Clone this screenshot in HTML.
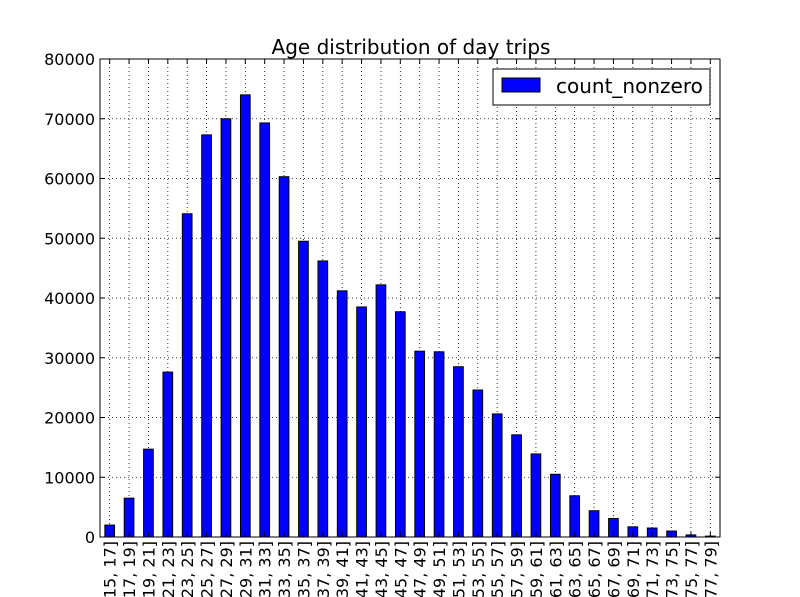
<!DOCTYPE html>
<html><head><meta charset="utf-8"><style>
body{margin:0;background:#fff;}
svg{display:block;font-family:"DejaVu Sans","Liberation Sans",sans-serif;}
</style></head><body>
<svg id="chart" width="800" height="597">
<rect width="800" height="597" fill="#fff"/>
<text x="411" y="54" text-anchor="middle" font-size="20">Age distribution of day trips</text>
<g id="grid"></g><g id="bars"></g><g id="yticks"></g><g id="xticks"></g>
<rect x="100" y="59" width="620" height="478" fill="none" stroke="#000" stroke-width="1"/>
<g>
<rect x="493" y="69" width="217" height="36" fill="#fff" stroke="#000"/>
<rect x="502" y="78" width="38" height="14" fill="#0000ff" stroke="#000"/>
<text x="556" y="93" font-size="20">count_nonzero</text>
</g>
</svg>
<script>
const categories=["[15, 17]","[17, 19]","[19, 21]","[21, 23]","[23, 25]","[25, 27]","[27, 29]","[29, 31]","[31, 33]","[33, 35]","[35, 37]","[37, 39]","[39, 41]","[41, 43]","[43, 45]","[45, 47]","[47, 49]","[49, 51]","[51, 53]","[53, 55]","[55, 57]","[57, 59]","[59, 61]","[61, 63]","[63, 65]","[65, 67]","[67, 69]","[69, 71]","[71, 73]","[73, 75]","[75, 77]","[77, 79]"];
const values=[2000,6500,14700,27600,54100,67300,70000,74000,69300,60300,49500,46200,41200,38500,42200,37700,31100,31000,28500,24600,20600,17100,13900,10500,6900,4400,3100,1700,1500,1000,350,150];
const yTicks=[0,10000,20000,30000,40000,50000,60000,70000,80000];
const NS="http://www.w3.org/2000/svg";
const X0=100,X1=720,Y0=537,Y1=59,YMAX=80000;
const step=(X1-X0)/categories.length;
function xC(i){return X0+(i+0.5)*step;}
function yS(v){return Y0-(v/YMAX)*(Y0-Y1);}
function mk(tag,attrs,parent){const e=document.createElementNS(NS,tag);for(const k in attrs)e.setAttribute(k,attrs[k]);parent.appendChild(e);return e;}
const grid=document.getElementById('grid'),bars=document.getElementById('bars'),yt=document.getElementById('yticks'),xt=document.getElementById('xticks');
yTicks.forEach(v=>{
 const y=yS(v);
 const g=mk('line',{x1:X0,x2:X1,y1:y,y2:y,stroke:'#000','stroke-dasharray':'1,3','stroke-width':0.8},grid);
 
 
 mk('line',{x1:X0,x2:X0+5,y1:y,y2:y,stroke:'#000'},yt);
 mk('line',{x1:X1,x2:X1-5,y1:y,y2:y,stroke:'#000'},yt);
 const t=mk('text',{x:X0-5,y:y+6,'text-anchor':'end','font-size':16},yt);
 t.textContent=v;
 
 
});
categories.forEach((c,i)=>{
 const x=xC(i);
 const g=mk('line',{x1:x,x2:x,y1:Y1,y2:Y0,stroke:'#000','stroke-dasharray':'1,3','stroke-width':0.8},grid);
 
 
 const bw=step*0.5,y=yS(values[i]);
 const b=mk('rect',{x:x-bw/2,y:y,width:bw,height:Y0-y,fill:'#0000ff',stroke:'#000','stroke-width':1},bars);
 
 
 mk('line',{x1:x,x2:x,y1:Y0,y2:Y0-5,stroke:'#000'},xt);
 mk('line',{x1:x,x2:x,y1:Y1,y2:Y1+5,stroke:'#000'},xt);
 const t=mk('text',{x:0,y:0,'text-anchor':'end','font-size':16,transform:`translate(${x+6},541) rotate(-90)`},xt);
 t.textContent=c;
 
 
});
</script>
</body></html>
